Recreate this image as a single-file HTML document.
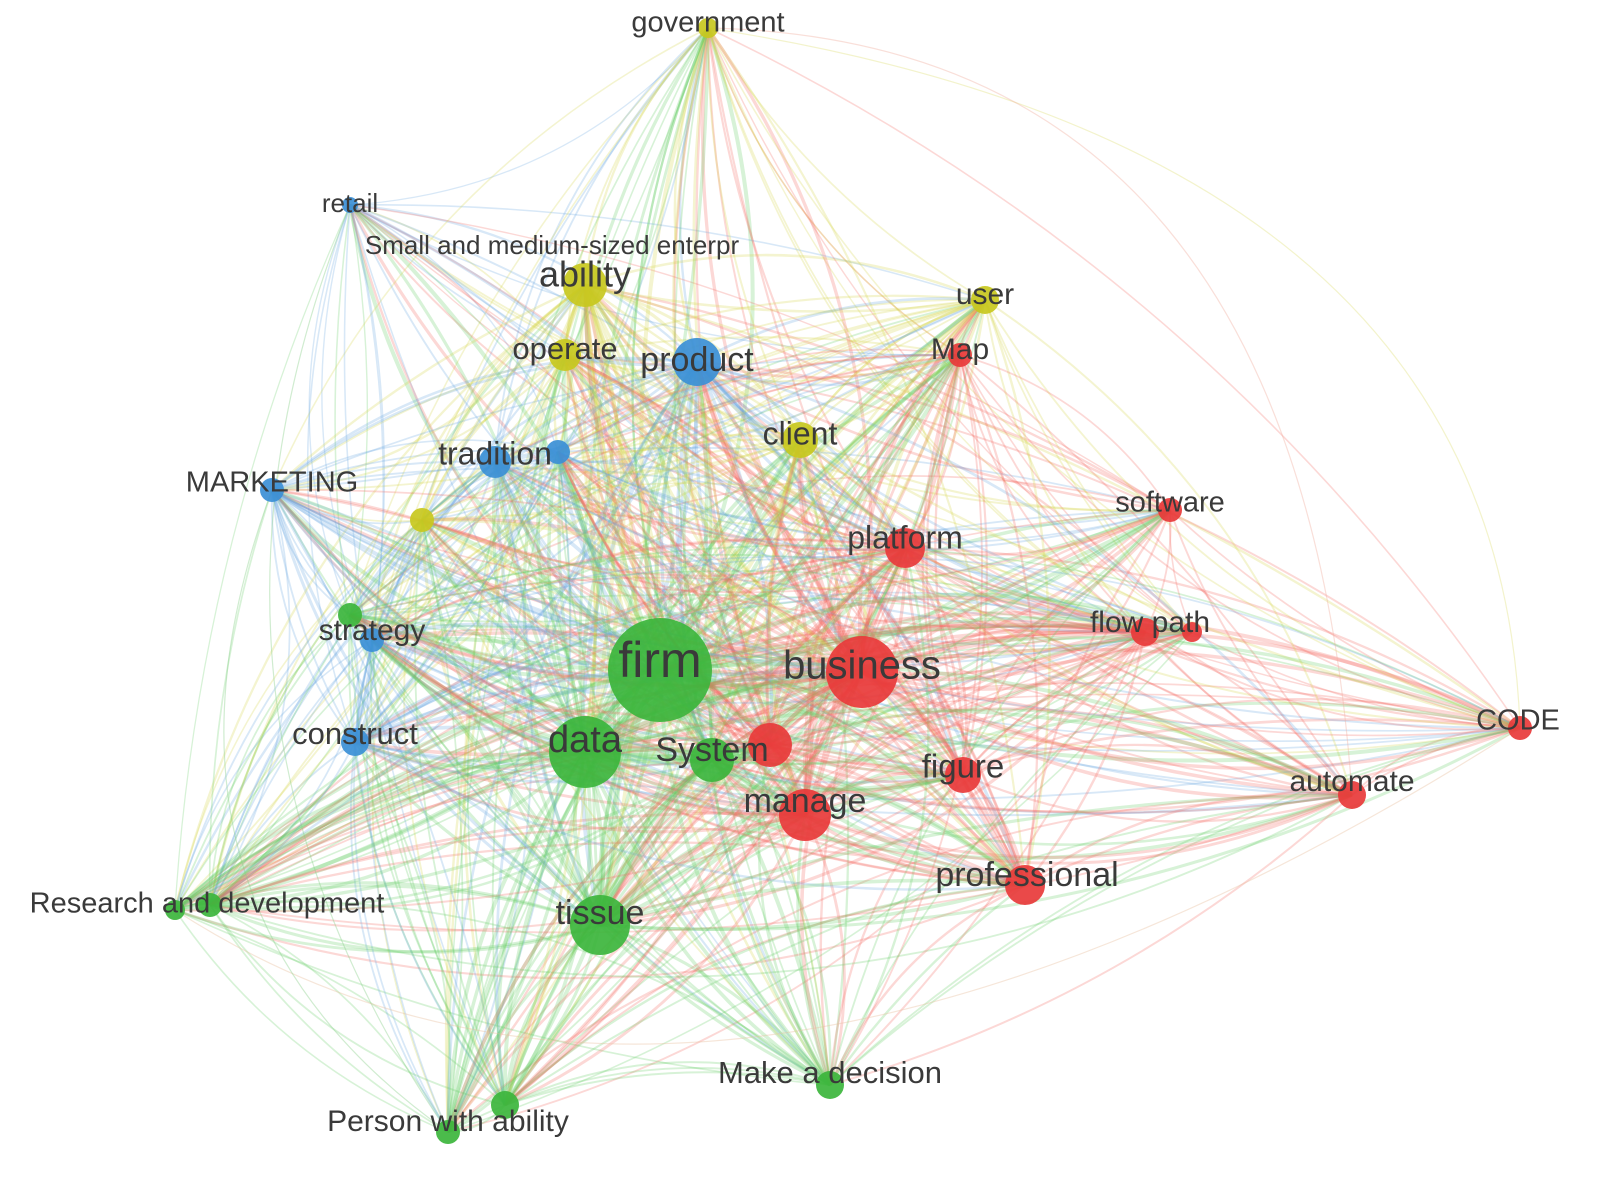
<!DOCTYPE html>
<html><head><meta charset="utf-8">
<style>
html,body{margin:0;padding:0;background:#fff;width:1602px;height:1180px;overflow:hidden}
svg text{font-family:"Liberation Sans",sans-serif;fill:#3a3a3a;text-anchor:middle;dominant-baseline:middle}
</style></head>
<body>
<svg id="s" width="1602" height="1180" viewBox="0 0 1602 1180" xmlns="http://www.w3.org/2000/svg">
<g id="e" fill="none"></g>
<g id="n"></g>
<g id="t"></g>
<text x="552" y="247" font-size="26">Small and medium-sized enterpr</text>
</svg>
<script>
var C={g:"#3cb53c",r:"#e8393a",b:"#3b8fd6",y:"#c8c81e"};
var E={g:"#66cc66",r:"#f26a62",b:"#6aa8e2",y:"#d4d44a"};
var N=[
[708,28,10,"y","government",29,0,-4],
[350,205,8,"b","retail",26,0,0],
[585,285,22,"y","ability",36,0,-8],
[985,300,14,"y","user",30,0,-4],
[565,355,16,"y","operate",31,0,-4],
[697,362,24,"b","product",34,0,0],
[960,355,12,"r","Map",30,0,-4],
[800,440,18,"y","client",32,0,-4],
[495,462,16,"b","tradition",32,0,-6],
[558,452,12,"b","",0,0,0],
[272,490,12,"b","MARKETING",29,0,-6],
[422,520,12,"y","",0,0,0],
[1170,510,12,"r","software",29,0,-6],
[905,548,20,"r","platform",32,0,-8],
[350,615,12,"g","",0,0,0],
[372,640,12,"b","strategy",30,0,-8],
[1145,632,14,"r","flow path",30,5,-8],
[1192,632,10,"r","",0,0,0],
[660,670,52,"g","firm",50,0,-6],
[862,672,36,"r","business",40,0,-4],
[1520,728,12,"r","CODE",29,-2,-6],
[355,742,14,"b","construct",31,0,-6],
[585,752,36,"g","data",38,0,-10],
[770,745,22,"r","",0,0,0],
[712,760,22,"g","System",34,0,-8],
[963,775,18,"r","figure",33,0,-6],
[805,815,26,"r","manage",34,0,-12],
[1352,795,14,"r","automate",30,0,-12],
[1025,885,20,"r","professional",34,2,-8],
[175,910,10,"g","Research and development",29,32,-5],
[210,905,12,"g","",0,0,0],
[600,925,30,"g","tissue",34,0,-10],
[830,1085,14,"g","Make a decision",31,0,-10],
[448,1132,12,"g","Person with ability",30,0,-9],
[505,1105,14,"g","",0,0,0]
];
var ns="http://www.w3.org/2000/svg";
var eg=document.getElementById("e"),ng=document.getElementById("n"),tg=document.getElementById("t");
var seed=7;function rnd(){seed=(seed*16807)%2147483647;return seed/2147483647;}
for(var rep=0;rep<2;rep++)
for(var i=0;i<N.length;i++)for(var j=i+1;j<N.length;j++){
 var a=N[i],b=N[j];
 var w=(a[2]+b[2])/14;
 if(rnd()>0.3+(a[2]+b[2])/80) continue;
 var dx=b[0]-a[0],dy=b[1]-a[1];
 var k=(0.08+rnd()*0.14)*(rnd()<0.3?-1:1);
 var cx=(a[0]+b[0])/2-dy*k, cy=(a[1]+b[1])/2+dx*k;
 var p=document.createElementNS(ns,"path");
 p.setAttribute("d","M"+a[0]+","+a[1]+" Q"+cx+","+cy+" "+b[0]+","+b[1]);
 var col=a[2]>=b[2]?a[3]:b[3];
 if(rnd()<0.3) col=(col==a[3]?b[3]:a[3]);
 p.setAttribute("stroke",E[col]);
 p.setAttribute("stroke-width",Math.max(1,Math.min(4,w)));
 p.setAttribute("stroke-opacity",0.26);
 eg.appendChild(p);
}
[["M708,28 Q1500,150 1520,728","#e0e080"],["M350,205 Q150,700 448,1132","#8ad08a"],["M175,910 Q700,1250 1520,728","#e8c0a0"],["M708,28 Q1300,40 1352,795","#f0b0a0"],["M272,490 Q120,900 448,1132","#8ad08a"]].forEach(function(x){
 var p=document.createElementNS(ns,"path");p.setAttribute("d",x[0]);p.setAttribute("stroke",x[1]);p.setAttribute("stroke-opacity",0.4);p.setAttribute("stroke-width",1.2);eg.appendChild(p);});
N.forEach(function(a){
 var c=document.createElementNS(ns,"circle");c.setAttribute("cx",a[0]);c.setAttribute("cy",a[1]);c.setAttribute("r",a[2]);c.setAttribute("fill",C[a[3]]);c.setAttribute("fill-opacity",0.92);ng.appendChild(c);
 if(a[4]){var t=document.createElementNS(ns,"text");t.setAttribute("x",a[0]+a[6]);t.setAttribute("y",a[1]+a[7]);t.setAttribute("font-size",a[5]);t.textContent=a[4];tg.appendChild(t);}
});
</script>
</body></html>
